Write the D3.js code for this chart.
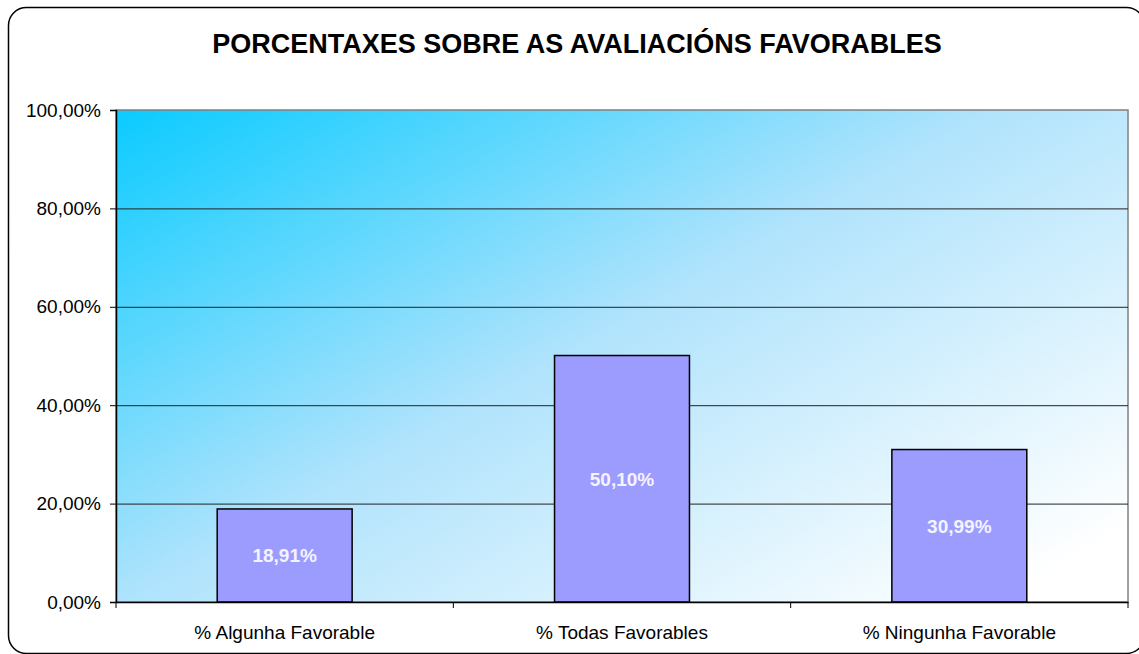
<!DOCTYPE html>
<html>
<head>
<meta charset="utf-8">
<script src="https://cdn.jsdelivr.net/npm/d3@7.9.0/dist/d3.min.js"></script>
<style>
  body { margin: 0; background: #fff; }
  svg { display: block; font-family: 'Liberation Sans', Arial, sans-serif; }
</style>
</head>
<body>
<svg id="chart" width="1139" height="654"></svg>
<script>
const categories = ['% Algunha Favorable', '% Todas Favorables', '% Ningunha Favorable'];
const values = [18.91, 50.10, 30.99];
const yTicks = [0, 20, 40, 60, 80, 100];
const title = 'PORCENTAXES SOBRE AS AVALIACIÓNS FAVORABLES';

const fmt = v => d3.format('.2f')(v).replace('.', ',') + '%';

const svg = d3.select('#chart');
const plot = { left: 116, top: 110, right: 1128, bottom: 602 };

// outer rounded frame
svg.append('rect')
  .attr('x', 8.5).attr('y', 7.5)
  .attr('width', 1136).attr('height', 646)
  .attr('rx', 18).attr('ry', 18)
  .attr('fill', '#fff')
  .attr('stroke', '#000')
  .attr('stroke-width', 1.5);

svg.append('text')
  .attr('x', 577).attr('y', 53)
  .attr('text-anchor', 'middle')
  .attr('font-size', 27)
  .attr('font-weight', 'bold')
  .text(title);

// background gradient
const defs = svg.append('defs');
const grad = defs.append('linearGradient')
  .attr('id', 'bg')
  .attr('x1', 0).attr('y1', 0).attr('x2', 1).attr('y2', 0.85);
grad.append('stop').attr('offset', 0).attr('stop-color', '#0acbff');
grad.append('stop').attr('offset', 0.5).attr('stop-color', '#b0e3fc');
grad.append('stop').attr('offset', 1).attr('stop-color', '#ffffff');

const x = d3.scaleBand()
  .domain(categories)
  .range([plot.left, plot.right])
  .paddingInner(0.6)
  .paddingOuter(0.3);

const y = d3.scaleLinear()
  .domain([0, 100])
  .range([plot.bottom, plot.top]);

svg.append('rect')
  .attr('x', plot.left).attr('y', plot.top)
  .attr('width', plot.right - plot.left)
  .attr('height', plot.bottom - plot.top)
  .attr('fill', 'url(#bg)')
  .attr('stroke', '#808080')
  .attr('stroke-width', 1.5);

// gridlines
svg.append('g')
  .selectAll('line')
  .data(yTicks.filter(t => t > 0 && t < 100))
  .join('line')
  .attr('x1', plot.left).attr('x2', plot.right)
  .attr('y1', d => y(d) + 0.5).attr('y2', d => y(d) + 0.5)
  .attr('stroke', '#222')
  .attr('stroke-width', 1);

// bars
svg.append('g')
  .selectAll('rect')
  .data(values)
  .join('rect')
  .attr('x', (d, i) => x(categories[i]))
  .attr('y', d => y(d))
  .attr('width', x.bandwidth())
  .attr('height', d => y(0) - y(d))
  .attr('fill', '#9c9cff')
  .attr('stroke', '#000')
  .attr('stroke-width', 1.5);

svg.append('g')
  .selectAll('text')
  .data(values)
  .join('text')
  .attr('x', (d, i) => x(categories[i]) + x.bandwidth() / 2)
  .attr('y', d => (y(d) + y(0)) / 2)
  .attr('dy', '0.36em')
  .attr('text-anchor', 'middle')
  .attr('font-size', 19)
  .attr('font-weight', 'bold')
  .attr('fill', '#f4f4ff')
  .text(d => fmt(d));

// y axis
const yAxis = svg.append('g')
  .attr('transform', `translate(${plot.left},0)`)
  .call(d3.axisLeft(y).tickValues(yTicks).tickSize(6).tickFormat(fmt));
yAxis.select('.domain').attr('stroke', '#000').attr('stroke-width', 1.5);
yAxis.selectAll('.tick line').attr('stroke', '#000');
yAxis.selectAll('.tick text')
  .attr('font-size', 19)
  .attr('font-family', null)
  .attr('fill', '#000')
  .attr('x', -15);

// x axis, ticks at category boundaries
const xAxis = svg.append('g')
  .attr('transform', `translate(0,${plot.bottom})`)
  .call(d3.axisBottom(x).tickSize(0).tickPadding(24));
xAxis.select('.domain').attr('stroke', '#000').attr('stroke-width', 1.5);
xAxis.selectAll('.tick text')
  .attr('font-size', 19)
  .attr('font-family', null)
  .attr('fill', '#000');

const step = (plot.right - plot.left) / categories.length;
xAxis.selectAll('.bound')
  .data(d3.range(categories.length + 1))
  .join('line')
  .attr('class', 'bound')
  .attr('x1', i => plot.left + i * step).attr('x2', i => plot.left + i * step)
  .attr('y1', 0).attr('y2', 6)
  .attr('stroke', '#000');
</script>
</body>
</html>
